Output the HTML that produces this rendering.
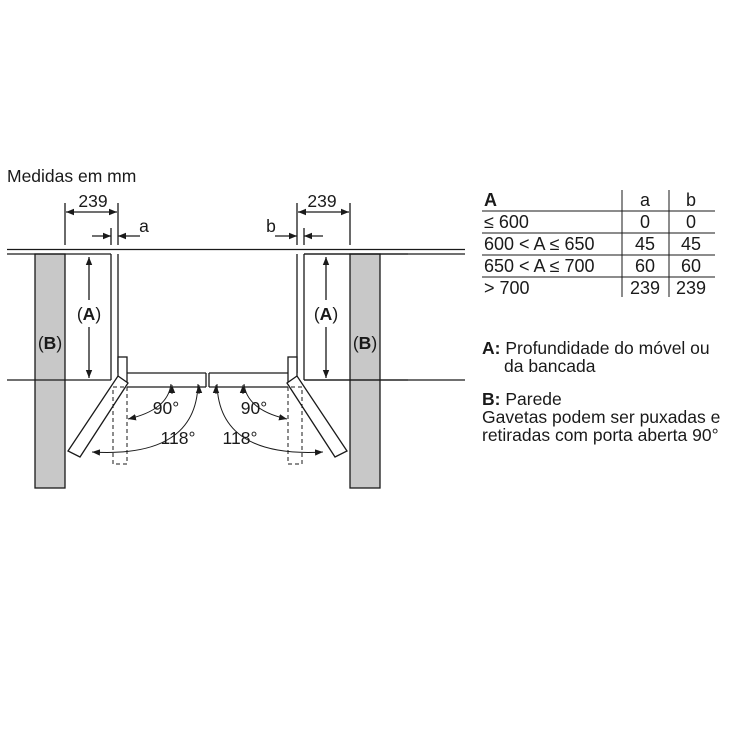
<!DOCTYPE html>
<html><head><meta charset="utf-8"><style>
html,body{margin:0;padding:0;background:#fff}
svg{display:block}
text{font-family:"Liberation Sans",Arial,sans-serif;fill:#1a1a1a}
</style></head><body>
<svg width="750" height="750" viewBox="0 0 750 750" xmlns="http://www.w3.org/2000/svg">
<defs>
<marker id="ar" viewBox="0 0 10 10" refX="10" refY="5" markerWidth="8" markerHeight="8" orient="auto-start-reverse" markerUnits="userSpaceOnUse"><path d="M0,1 L10,5 L0,9z" fill="#1a1a1a"/></marker>
<g id="half" stroke="#1a1a1a" stroke-width="1.3" fill="none">
  <rect x="35" y="254" width="30" height="234" fill="#c8c8c8"/>
  <line x1="7" y1="254" x2="111" y2="254"/>
  <line x1="111" y1="254" x2="111" y2="380"/>
  <line x1="7" y1="380" x2="111" y2="380"/>
  <line x1="89" y1="257" x2="89" y2="300" marker-start="url(#ar)"/>
  <line x1="89" y1="327" x2="89" y2="378" marker-end="url(#ar)"/>
  <line x1="65" y1="203" x2="65" y2="245"/>
  <line x1="118" y1="203" x2="118" y2="245"/>
  <line x1="66" y1="212" x2="117" y2="212" marker-start="url(#ar)" marker-end="url(#ar)"/>
  <line x1="92" y1="236" x2="111" y2="236" marker-end="url(#ar)"/>
  <line x1="140" y1="236" x2="118" y2="236" marker-end="url(#ar)"/>
  <line x1="111" y1="228" x2="111" y2="245"/>
  <line x1="118" y1="254" x2="118" y2="373"/>
  <line x1="127" y1="373" x2="206" y2="373"/>
  <line x1="127" y1="387" x2="206" y2="387"/>
  <line x1="206" y1="373" x2="206" y2="387"/>
  <rect x="118" y="357" width="9" height="25" fill="#fff"/>
  <polygon points="118,376 128,383 80,457 68,451" fill="#fff"/>
  <rect x="113" y="387" width="14" height="77" stroke-dasharray="4,3" stroke-width="1"/>
  <path d="M171,384 Q168,410 128,419" marker-end="url(#ar)" stroke-width="1"/>
  <path d="M172,394 L172,385" marker-end="url(#ar)" stroke-width="1"/>
  <path d="M198,384 Q196,458 92,452" marker-end="url(#ar)" stroke-width="1"/>
  <path d="M199,394 L199,385" marker-end="url(#ar)" stroke-width="1"/>
</g>
</defs>
<line x1="7" y1="249.5" x2="465" y2="249.5" stroke="#1a1a1a" stroke-width="1.3"/>
<use href="#half"/>
<use href="#half" transform="translate(415,0) scale(-1,1)"/>
<line x1="304" y1="254" x2="465" y2="254" stroke="#1a1a1a" stroke-width="1.3"/>
<line x1="304" y1="380" x2="465" y2="380" stroke="#1a1a1a" stroke-width="1.3"/>
<g font-size="17.5">
<text x="7" y="182">Medidas em mm</text>
<text x="93" y="207" text-anchor="middle">239</text>
<text x="322" y="207" text-anchor="middle">239</text>
<text x="144" y="232" text-anchor="middle">a</text>
<text x="271" y="232" text-anchor="middle">b</text>
<text x="89" y="320" text-anchor="middle">(<tspan font-weight="bold">A</tspan>)</text>
<text x="326" y="320" text-anchor="middle">(<tspan font-weight="bold">A</tspan>)</text>
<text x="50" y="349" text-anchor="middle">(<tspan font-weight="bold">B</tspan>)</text>
<text x="365" y="349" text-anchor="middle">(<tspan font-weight="bold">B</tspan>)</text>
<text x="166" y="414" text-anchor="middle">90°</text>
<text x="254" y="414" text-anchor="middle">90°</text>
<text x="178" y="444" text-anchor="middle">118°</text>
<text x="240" y="444" text-anchor="middle">118°</text>
</g>
<g stroke="#1a1a1a" stroke-width="1">
<line x1="482" y1="211" x2="715" y2="211"/>
<line x1="482" y1="233" x2="715" y2="233"/>
<line x1="482" y1="255" x2="715" y2="255"/>
<line x1="482" y1="277" x2="715" y2="277"/>
<line x1="622" y1="190" x2="622" y2="297"/>
<line x1="669" y1="190" x2="669" y2="297"/>
</g>
<g font-size="18">
<text x="484" y="206" font-weight="bold">A</text>
<text x="645" y="206" text-anchor="middle">a</text>
<text x="691" y="206" text-anchor="middle">b</text>
<text x="484" y="228">≤ 600</text>
<text x="645" y="228" text-anchor="middle">0</text>
<text x="691" y="228" text-anchor="middle">0</text>
<text x="484" y="250">600 &lt; A ≤ 650</text>
<text x="645" y="250" text-anchor="middle">45</text>
<text x="691" y="250" text-anchor="middle">45</text>
<text x="484" y="272">650 &lt; A ≤ 700</text>
<text x="645" y="272" text-anchor="middle">60</text>
<text x="691" y="272" text-anchor="middle">60</text>
<text x="484" y="294">&gt; 700</text>
<text x="645" y="294" text-anchor="middle">239</text>
<text x="691" y="294" text-anchor="middle">239</text>
</g>
<g font-size="17.5">
<text x="482" y="354"><tspan font-weight="bold">A:</tspan> Profundidade do móvel ou</text>
<text x="504" y="372">da bancada</text>
<text x="482" y="405"><tspan font-weight="bold">B:</tspan> Parede</text>
<text x="482" y="423">Gavetas podem ser puxadas e</text>
<text x="482" y="441">retiradas com porta aberta 90°</text>
</g>
</svg>
</body></html>
